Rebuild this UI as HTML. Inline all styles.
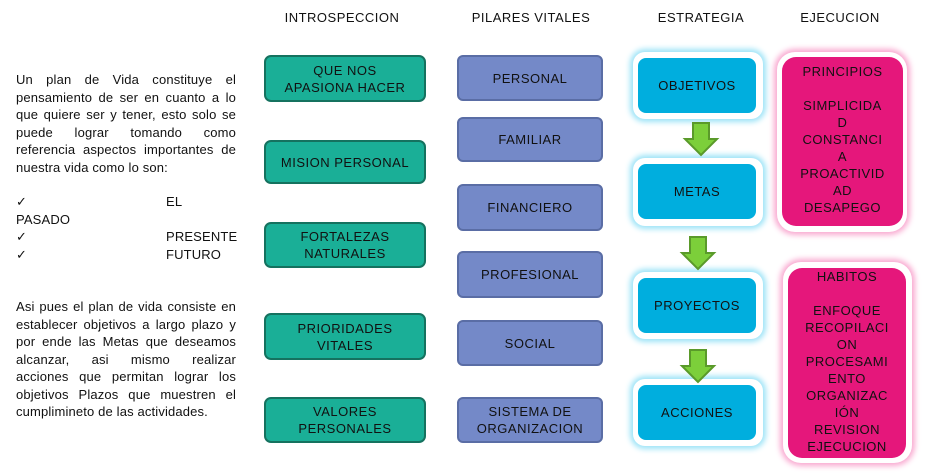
<!DOCTYPE html>
<html><head><style>
body{margin:0;width:935px;height:476px;background:#fff;font-family:"Liberation Sans",sans-serif;position:relative;overflow:hidden}
.a{position:absolute;box-sizing:border-box;display:flex;align-items:center;justify-content:center;text-align:center;font-size:13px;letter-spacing:0.5px;color:#111;line-height:17px}
.h{position:absolute;font-size:13px;letter-spacing:0.5px;top:10px;color:#111;transform:translateX(-50%);white-space:nowrap}
.t{background:#1aaf97;border:2px solid #15725f;border-radius:7px;left:264px;width:162px}
.p{background:#7489c8;border:2px solid #5a6da5;border-radius:6px;left:457px;width:146px}
.go{position:absolute;left:633px;width:130px;background:#fff;border-radius:12px;box-shadow:0 0 6px 3px #9be3f7}
.c{background:#00aede;border-radius:8px;left:638px;width:118px;height:55px}
.po{position:absolute;background:#fff;border-radius:18px;box-shadow:0 0 6px 3px #f9a8d0}
.pk{background:#e5177b;border-radius:14px;align-items:flex-start;padding-top:6px}
.txt{position:absolute;left:16px;width:220px;font-size:13px;letter-spacing:0.15px;line-height:17.5px;text-align:justify;color:#111}
</style></head><body>
<div class="h" style="left:342px">INTROSPECCION</div>
<div class="h" style="left:531px">PILARES VITALES</div>
<div class="h" style="left:701px">ESTRATEGIA</div>
<div class="h" style="left:840px">EJECUCION</div>

<div class="txt" style="top:71px">Un plan de Vida constituye el pensamiento de ser en cuanto a lo que quiere ser y tener, esto solo se puede lograr tomando como referencia aspectos importantes de nuestra vida como lo son:</div>
<div class="txt" style="top:193px;text-align:left">
<div>✓<span style="position:absolute;left:150px">EL</span></div>
<div>PASADO</div>
<div>✓<span style="position:absolute;left:150px">PRESENTE</span></div>
<div>✓<span style="position:absolute;left:150px">FUTURO</span></div></div>
<div class="txt" style="top:298px">Asi pues el plan de vida consiste en establecer objetivos a largo plazo y por ende las Metas que deseamos alcanzar, asi mismo realizar acciones que permitan lograr los objetivos Plazos que muestren el cumplimineto de las actividades.</div>

<div class="a t" style="top:55px;height:47px">QUE NOS<br>APASIONA HACER</div>
<div class="a t" style="top:140px;height:44px">MISION PERSONAL</div>
<div class="a t" style="top:222px;height:46px">FORTALEZAS<br>NATURALES</div>
<div class="a t" style="top:313px;height:47px">PRIORIDADES<br>VITALES</div>
<div class="a t" style="top:397px;height:46px">VALORES<br>PERSONALES</div>

<div class="a p" style="top:55px;height:46px">PERSONAL</div>
<div class="a p" style="top:117px;height:45px">FAMILIAR</div>
<div class="a p" style="top:184px;height:47px">FINANCIERO</div>
<div class="a p" style="top:251px;height:47px">PROFESIONAL</div>
<div class="a p" style="top:320px;height:46px">SOCIAL</div>
<div class="a p" style="top:397px;height:46px">SISTEMA DE<br>ORGANIZACION</div>

<div class="go" style="top:52px;height:67px"></div>
<div class="go" style="top:158px;height:68px"></div>
<div class="go" style="top:272px;height:67px"></div>
<div class="go" style="top:379px;height:67px"></div>
<div class="a c" style="top:58px">OBJETIVOS</div>
<div class="a c" style="top:164px">METAS</div>
<div class="a c" style="top:278px">PROYECTOS</div>
<div class="a c" style="top:385px">ACCIONES</div>

<svg style="position:absolute;left:0;top:0" width="935" height="476">
<g fill="#7ccf3a" stroke="#5a9a2a" stroke-width="2">
<polygon points="693,123 709,123 709,139 717,139 701,155 685,139 693,139"/>
<polygon points="690,237 706,237 706,253 714,253 698,269 682,253 690,253"/>
<polygon points="690,350 706,350 706,366 714,366 698,382 682,366 690,366"/>
</g></svg>

<div class="po" style="left:777px;top:52px;width:130px;height:180px"></div>
<div class="a pk" style="left:782px;top:57px;width:121px;height:169px">PRINCIPIOS<br><br>SIMPLICIDA<br>D<br>CONSTANCI<br>A<br>PROACTIVID<br>AD<br>DESAPEGO</div>
<div class="po" style="left:783px;top:262px;width:129px;height:201px"></div>
<div class="a pk" style="left:788px;top:268px;width:118px;height:190px;padding-top:0">HABITOS<br><br>ENFOQUE<br>RECOPILACI<br>ON<br>PROCESAMI<br>ENTO<br>ORGANIZAC<br>IÓN<br>REVISION<br>EJECUCION</div>
</body></html>
